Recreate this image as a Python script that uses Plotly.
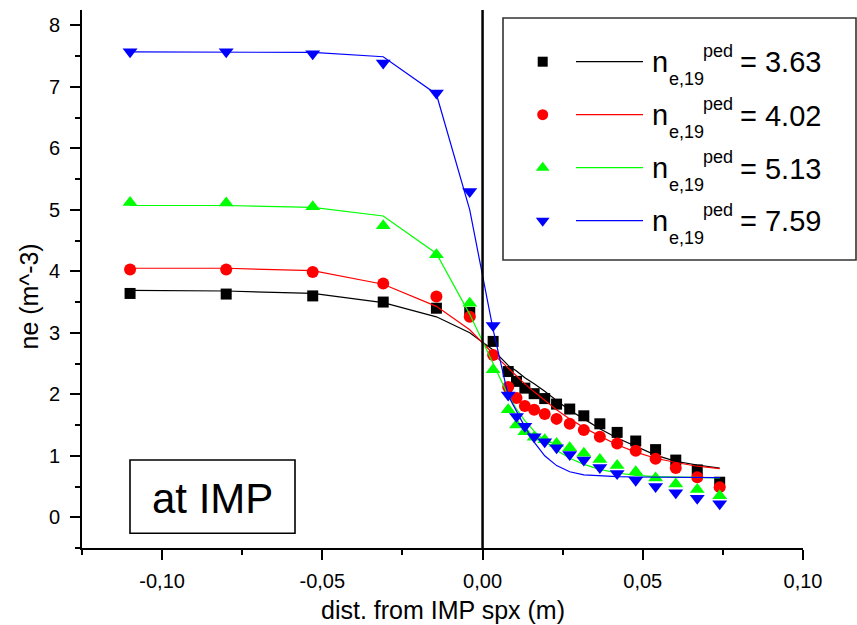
import plotly.graph_objects as go

# ---------------- data ----------------
dist_m = [-0.110, -0.080, -0.053, -0.031, -0.0144, -0.004, 0.0033, 0.0080, 0.0106,
          0.0132, 0.0161, 0.0194, 0.0231, 0.0272, 0.0316, 0.0366, 0.0420, 0.0478,
          0.0540, 0.0603, 0.0670, 0.0740]

ne_363 = [3.64, 3.63, 3.60, 3.50, 3.40, 3.33, 2.86, 2.37, 2.21, 2.10, 2.01, 1.93,
          1.84, 1.76, 1.65, 1.52, 1.38, 1.24, 1.10, 0.93, 0.77, 0.57]
ne_402 = [4.03, 4.03, 3.99, 3.80, 3.59, 3.26, 2.64, 2.12, 1.94, 1.81, 1.75, 1.68,
          1.60, 1.52, 1.42, 1.31, 1.20, 1.08, 0.95, 0.80, 0.65, 0.49]
ne_513 = [5.12, 5.11, 5.05, 4.74, 4.27, 3.48, 2.40, 1.75, 1.50, 1.39, 1.30, 1.26,
          1.20, 1.13, 1.04, 0.94, 0.84, 0.74, 0.64, 0.54, 0.45, 0.35]
ne_759 = [7.57, 7.57, 7.54, 7.39, 6.90, 5.30, 3.12, 1.99, 1.64, 1.48, 1.31, 1.23,
          1.13, 1.02, 0.93, 0.81, 0.71, 0.60, 0.50, 0.40, 0.31, 0.22]

fit_363 = [3.69, 3.68, 3.64, 3.49, 3.26, 3.00, 2.72, 2.47, 2.38, 2.27, 2.17, 2.05,
           1.90, 1.74, 1.60, 1.44, 1.29, 1.15, 1.01, 0.91, 0.85, 0.80]
fit_402 = [4.05, 4.05, 4.01, 3.79, 3.43, 3.05, 2.66, 2.42, 2.30, 2.17, 2.04, 1.90,
           1.75, 1.60, 1.46, 1.32, 1.18, 1.06, 0.96, 0.89, 0.83, 0.79]
fit_513 = [5.07, 5.07, 5.04, 4.90, 4.29, 3.30, 2.50, 1.98, 1.76, 1.57, 1.40, 1.24,
           1.09, 0.96, 0.86, 0.78, 0.72, 0.68, 0.66, 0.65, 0.645, 0.64]
fit_759 = [7.57, 7.57, 7.56, 7.49, 6.88, 5.00, 3.05, 1.98, 1.72, 1.47, 1.22, 1.00,
           0.84, 0.74, 0.69, 0.67, 0.66, 0.655, 0.65, 0.648, 0.646, 0.645]

ped_labels = ["3.63", "4.02", "5.13", "7.59"]

x_tickvals = [-0.10, -0.05, 0.00, 0.05, 0.10]
x_ticktext = ["-0,10", "-0,05", "0,00", "0,05", "0,10"]
x_minorvals = [-0.125, -0.075, -0.025, 0.025, 0.075]
y_tickvals = [0, 1, 2, 3, 4, 5, 6, 7, 8]
y_minorvals = [-0.5, 0.5, 1.5, 2.5, 3.5, 4.5, 5.5, 6.5, 7.5]

# ---------------- styling ----------------
FONT = "Arial, 'Liberation Sans', sans-serif"
series = [
    (ne_363, fit_363, "black", "square", 11),
    (ne_402, fit_402, "#ff0000", "circle", 12),
    (ne_513, fit_513, "#00ff00", "triangle-up", 13),
    (ne_759, fit_759, "#0000ff", "triangle-down", 13),
]

W, H = 857, 625
ML, MR, MT, MB = 82, 54, 10, 77
PW, PH = W - ML - MR, H - MT - MB


def pxx(x):
    return (x - ML) / PW


def pxy(y):
    return (H - MB - y) / PH


fig = go.Figure()
for ne, fit, col, sym, sz in series:
    fig.add_trace(go.Scatter(x=dist_m, y=fit, mode="lines",
                             line=dict(color=col, width=1.2), showlegend=False,
                             hoverinfo="skip"))
    fig.add_trace(go.Scatter(x=dist_m, y=ne, mode="markers",
                             marker=dict(color=col, symbol=sym, size=sz,
                                         line=dict(width=0)),
                             showlegend=False))

# custom legend (marker, line segment, label), drawn on a hidden overlay axis
shapes = []
annotations = []
row0, drow = 61.7, 53.0
for i, ((ne, fit, col, sym, sz), lab) in enumerate(zip(series, ped_labels)):
    yc = row0 + drow * i
    fig.add_trace(go.Scatter(x=[pxx(542.7)], y=[pxy(yc)], mode="markers",
                             xaxis="x2", yaxis="y2", cliponaxis=False,
                             marker=dict(color=col, symbol=sym, size=sz - 1,
                                         line=dict(width=0)),
                             showlegend=False, hoverinfo="skip"))
    shapes.append(dict(type="line", xref="paper", yref="paper",
                       x0=pxx(576), x1=pxx(643), y0=pxy(yc), y1=pxy(yc),
                       line=dict(color=col, width=1.2)))
    parts = [("n", 649.7, yc + 0.3, 29), ("e,19", 666.6, yc + 17.1, 18),
             ("ped", 701.2, yc - 10.4, 18), ("= " + lab, 738.2, yc + 0.8, 29)]
    for txt, xl, ym, fs in parts:
        annotations.append(dict(text=txt, xref="paper", yref="paper",
                                x=pxx(xl), y=pxy(ym), xanchor="left",
                                yanchor="middle", showarrow=False,
                                font=dict(family=FONT, size=fs, color="black")))

# legend frame
shapes.append(dict(type="rect", xref="paper", yref="paper",
                   x0=pxx(503), x1=pxx(856), y0=pxy(260), y1=pxy(18),
                   line=dict(color="#333333", width=1.6),
                   fillcolor="rgba(0,0,0,0)"))
# separatrix line
shapes.append(dict(type="line", xref="x", yref="paper", x0=0, x1=0, y0=0, y1=1,
                   line=dict(color="black", width=2.5)))
# "at IMP" box
shapes.append(dict(type="rect", xref="paper", yref="paper",
                   x0=pxx(130), x1=pxx(295), y0=pxy(533.3), y1=pxy(460),
                   line=dict(color="black", width=1.6),
                   fillcolor="rgba(0,0,0,0)"))
annotations.append(dict(text="at IMP", xref="paper", yref="paper",
                        x=pxx(212.5), y=pxy(498.2), xanchor="center",
                        yanchor="middle", showarrow=False,
                        font=dict(family=FONT, size=42, color="black")))
# axis titles
annotations.append(dict(text="dist. from IMP spx (m)", xref="paper", yref="paper",
                        x=pxx(442.5), y=pxy(609.5), xanchor="center",
                        yanchor="middle", showarrow=False,
                        font=dict(family=FONT, size=25, color="black")))
annotations.append(dict(text="ne (m^-3)", xref="paper", yref="paper",
                        x=pxx(28), y=pxy(296.5), xanchor="center",
                        yanchor="middle", showarrow=False, textangle=-90,
                        font=dict(family=FONT, size=25, color="black")))

fig.update_layout(
    width=W, height=H,
    margin=dict(l=ML, r=MR, t=MT, b=MB, pad=0),
    paper_bgcolor="white", plot_bgcolor="white",
    font=dict(family=FONT, size=20, color="black"),
    showlegend=False,
    shapes=shapes,
    annotations=annotations,
    xaxis=dict(range=[-0.125, 0.10], showgrid=False, zeroline=False,
               showline=True, linecolor="black", linewidth=2,
               ticks="outside", ticklen=10, tickwidth=2, tickcolor="black",
               tickmode="array", tickvals=x_tickvals, ticktext=x_ticktext,
               tickfont=dict(family=FONT, size=20), ticklabelstandoff=4,
               minor=dict(tickmode="array", tickvals=x_minorvals, ticks="outside",
                          ticklen=5, tickwidth=2, tickcolor="black")),
    yaxis=dict(range=[-0.5, 8.25], showgrid=False, zeroline=False,
               showline=True, linecolor="black", linewidth=2,
               ticks="outside", ticklen=10, tickwidth=2, tickcolor="black",
               tickmode="array", tickvals=y_tickvals,
               ticktext=[str(v) for v in y_tickvals],
               tickfont=dict(family=FONT, size=20), ticklabelstandoff=6,
               minor=dict(tickmode="array", tickvals=y_minorvals, ticks="outside",
                          ticklen=5, tickwidth=2, tickcolor="black")),
    xaxis2=dict(overlaying="x", range=[0, 1], visible=False, anchor="y2"),
    yaxis2=dict(overlaying="y", range=[0, 1], visible=False, anchor="x2"),
)

fig.write_html("out.html")
